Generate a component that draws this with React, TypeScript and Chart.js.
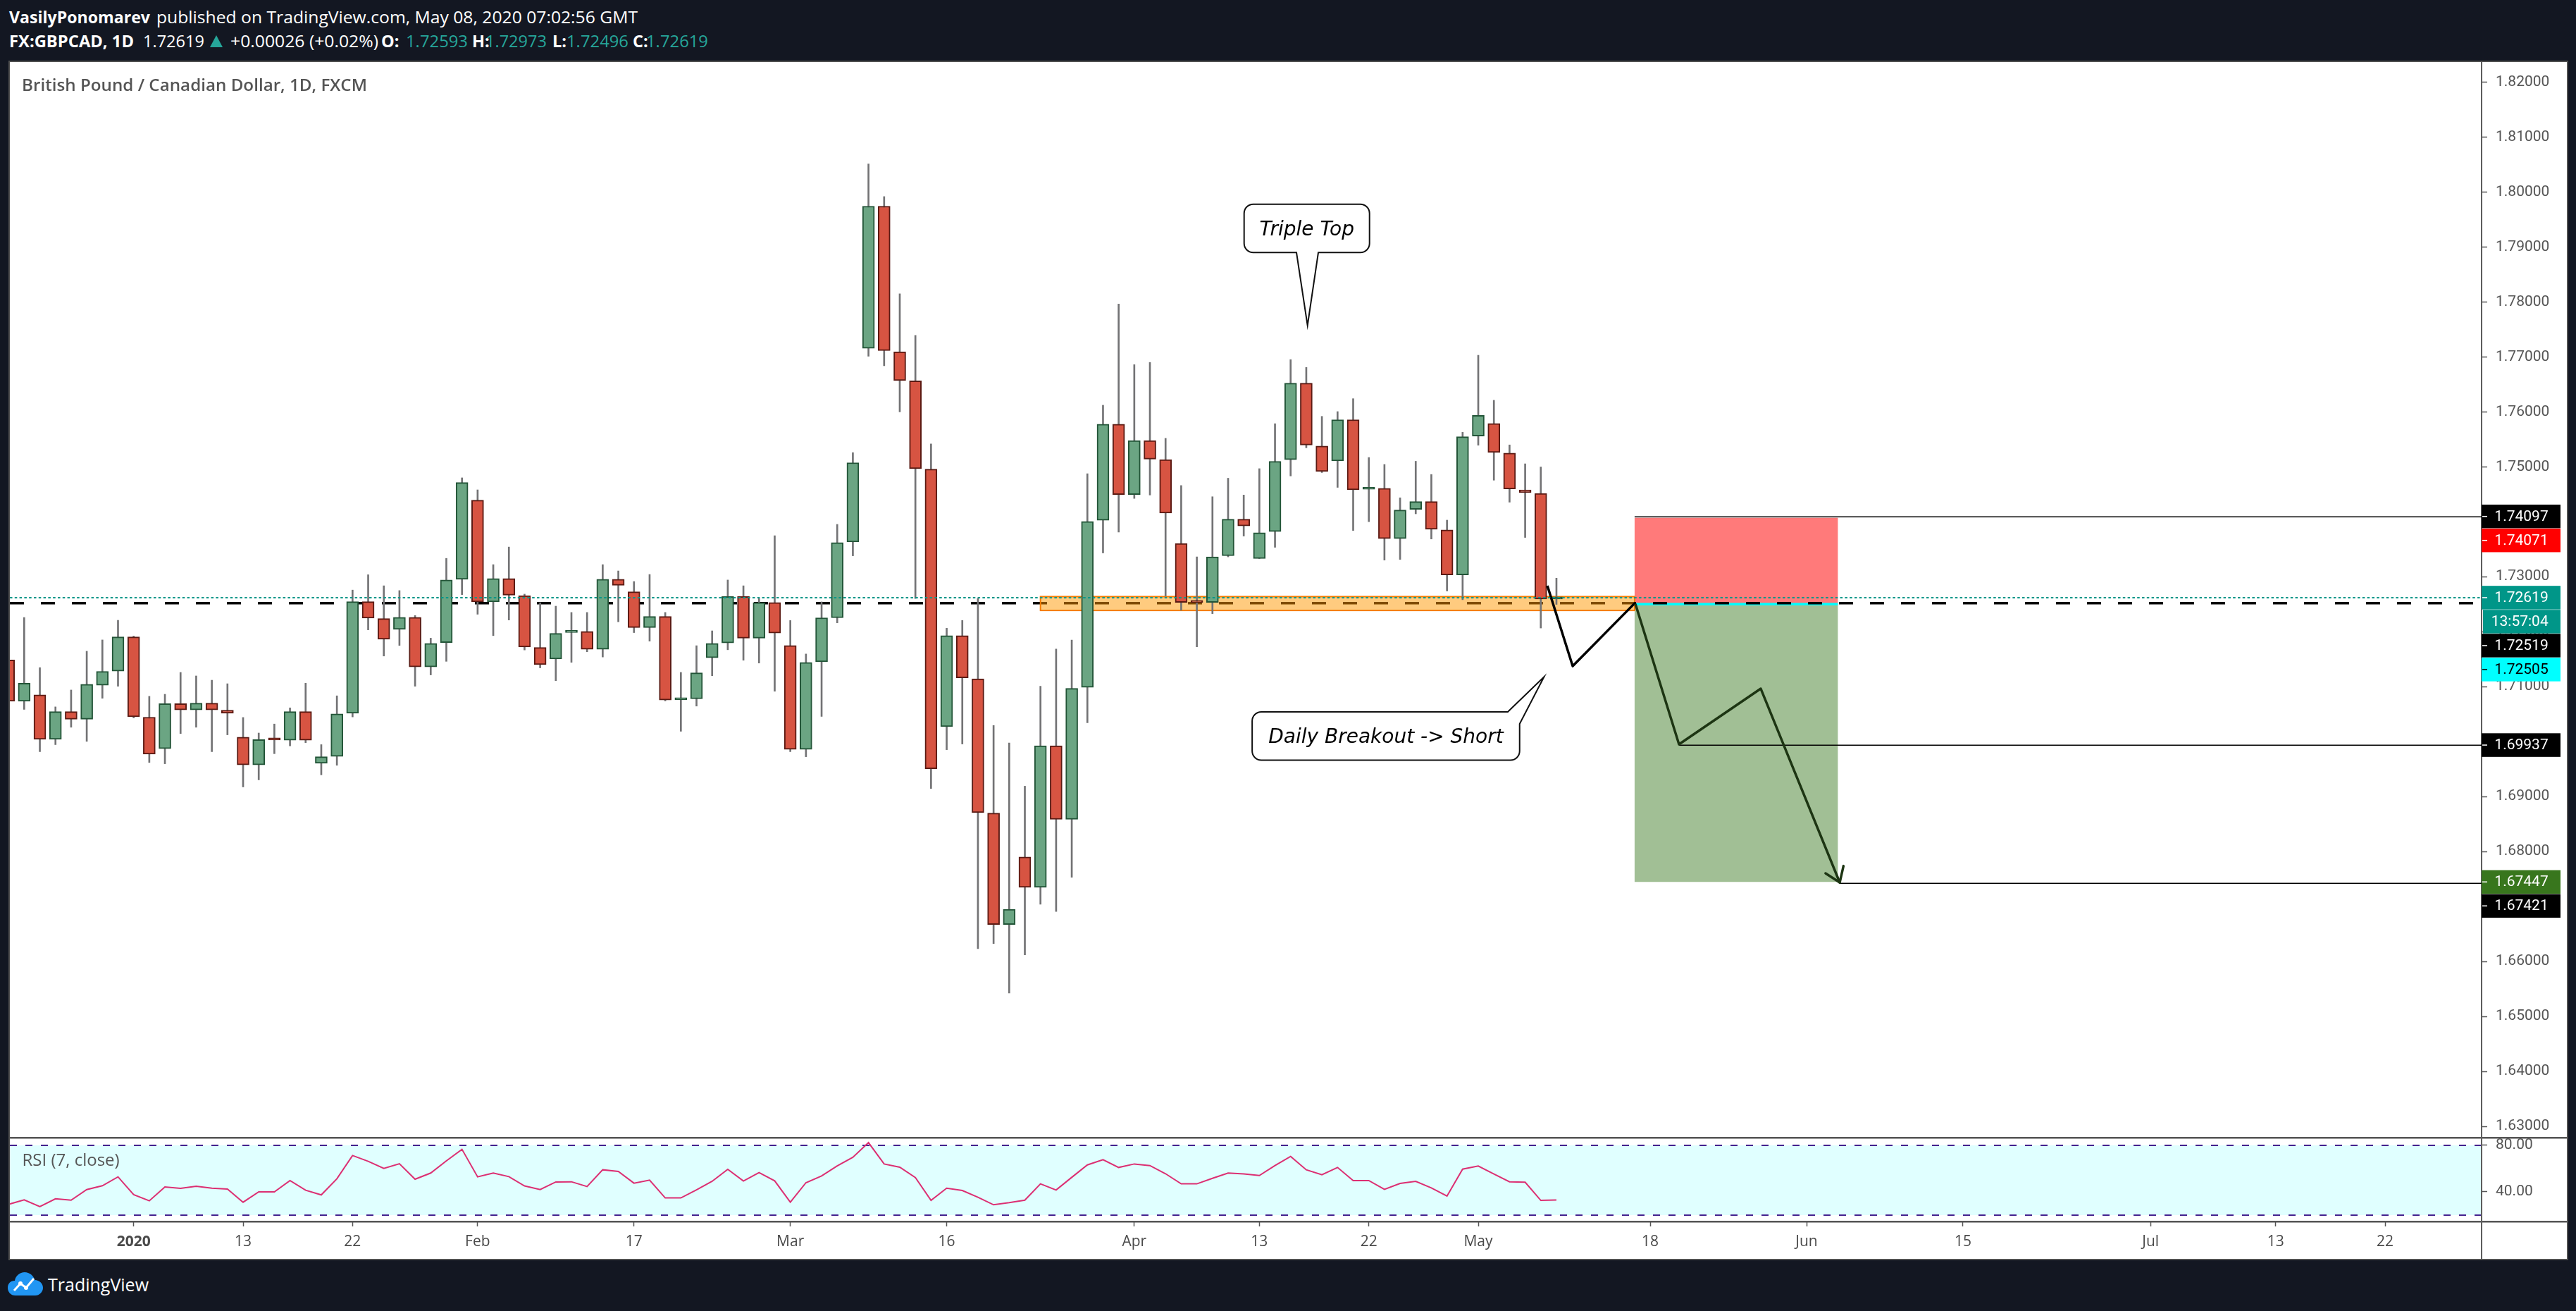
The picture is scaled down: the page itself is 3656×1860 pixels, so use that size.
import React, { useEffect, useRef } from 'react';
import { Chart, registerables } from 'chart.js';

Chart.register(...registerables);

// ---------- DATA ----------
// Bar index 0 = Jan 13, 2020 (daily, weekdays only). First visible bar is index -15 (Dec 19, 2019).
const FIRST_BAR_INDEX = -15;

const OPEN = [
  1.71484, 1.70733, 1.70852, 1.70041, 1.70545, 1.70407, 1.71026, 1.71282, 1.71905, 1.70444,
  1.69872, 1.70691, 1.70577, 1.707, 1.70572, 1.70082, 1.69578, 1.70036, 1.70027, 1.70545,
  1.69606, 1.69729, 1.70517, 1.72546, 1.72239, 1.72042, 1.72262, 1.7136, 1.718, 1.72954,
  1.74392, 1.72542, 1.72968, 1.72656, 1.71713, 1.71502, 1.71985, 1.72006, 1.7168, 1.72954,
  1.72725, 1.72074, 1.72276, 1.7076, 1.70778, 1.71525, 1.71795, 1.72638, 1.71882, 1.72532,
  1.71749, 1.69858, 1.71451, 1.72253, 1.73632, 1.77155, 1.79742, 1.77093, 1.76562, 1.74956,
  1.70272, 1.71929, 1.71142, 1.68698, 1.66673, 1.679, 1.67348, 1.69925, 1.68585, 1.70988,
  1.74025, 1.75774, 1.74496, 1.75478, 1.7513, 1.73606, 1.72545, 1.72532, 1.73381, 1.74046,
  1.7333, 1.73821, 1.7513, 1.76521, 1.75376, 1.75106, 1.75856, 1.7459, 1.74607, 1.73692,
  1.74224, 1.74367, 1.73852, 1.73033, 1.75558, 1.75787, 1.75249, 1.7458, 1.74516, 1.72593,
];
const HIGH = [
  1.7162, 1.72258, 1.71346, 1.70632, 1.70939, 1.71644, 1.7185, 1.72207, 1.7192, 1.70824,
  1.70861, 1.71259, 1.71195, 1.71117, 1.71053, 1.70439, 1.70156, 1.7032, 1.70614, 1.71062,
  1.69945, 1.70833, 1.72757, 1.73036, 1.72835, 1.72748, 1.72294, 1.71882, 1.73334, 1.74799,
  1.7458, 1.7322, 1.7354, 1.72683, 1.72528, 1.72464, 1.7235, 1.7235, 1.7322, 1.73105,
  1.72913, 1.73041, 1.7235, 1.71259, 1.71745, 1.72015, 1.7294, 1.72835, 1.72601, 1.73746,
  1.72203, 1.71594, 1.72542, 1.73952, 1.75258, 1.80509, 1.79916, 1.78147, 1.7739, 1.75416,
  1.72062, 1.72205, 1.72604, 1.70293, 1.69976, 1.69189, 1.71009, 1.71684, 1.71848, 1.74874,
  1.7612, 1.77962, 1.76858, 1.76899, 1.75518, 1.74659, 1.73361, 1.74455, 1.74792, 1.74486,
  1.74966, 1.75784, 1.7695, 1.76807, 1.75917, 1.76004, 1.76239, 1.75169, 1.75043, 1.74436,
  1.751, 1.7486, 1.74029, 1.75627, 1.77029, 1.7621, 1.75398, 1.75054, 1.74997, 1.72973,
];
const LOW = [
  1.706, 1.70586, 1.69817, 1.69945, 1.70261, 1.70004, 1.70788, 1.71007, 1.7043, 1.6962,
  1.69597, 1.70146, 1.70261, 1.69817, 1.70123, 1.69175, 1.69304, 1.6978, 1.69922, 1.69981,
  1.69395, 1.69569, 1.70449, 1.72033, 1.71557, 1.71749, 1.71007, 1.71213, 1.7146, 1.72674,
  1.72317, 1.71928, 1.72212, 1.71667, 1.71342, 1.71108, 1.71442, 1.71635, 1.71539, 1.7218,
  1.71983, 1.71827, 1.7074, 1.70188, 1.70646, 1.71199, 1.71671, 1.7148, 1.71429, 1.70916,
  1.69817, 1.69725, 1.70458, 1.72161, 1.7338, 1.7701, 1.76838, 1.75999, 1.72604, 1.69148,
  1.69853, 1.69956, 1.66233, 1.66325, 1.65425, 1.6612, 1.67041, 1.66908, 1.67532, 1.70344,
  1.73432, 1.73811, 1.74424, 1.74486, 1.72645, 1.72389, 1.71725, 1.72328, 1.73361, 1.73739,
  1.7333, 1.73535, 1.74833, 1.75345, 1.74895, 1.74625, 1.73841, 1.74001, 1.73302, 1.73314,
  1.74144, 1.73686, 1.72741, 1.72581, 1.75392, 1.74756, 1.74356, 1.73714, 1.72066, 1.72496,
];
const CLOSE = [
  1.70733, 1.71062, 1.70041, 1.70545, 1.70407, 1.71044, 1.71278, 1.71905, 1.70453, 1.69771,
  1.70691, 1.70577, 1.707, 1.70577, 1.70517, 1.69578, 1.70036, 1.7003, 1.70545, 1.70027,
  1.69725, 1.70504, 1.72546, 1.72248, 1.71864, 1.72262, 1.7136, 1.71786, 1.7294, 1.74713,
  1.72542, 1.72968, 1.72665, 1.71722, 1.71401, 1.71969, 1.71992, 1.7168, 1.72954, 1.72844,
  1.72074, 1.72276, 1.70755, 1.70769, 1.7125, 1.71786, 1.72638, 1.71882, 1.72532, 1.71974,
  1.69858, 1.71442, 1.72253, 1.73622, 1.75074, 1.79742, 1.77114, 1.7657, 1.74966, 1.69506,
  1.71929, 1.71162, 1.68708, 1.66673, 1.66949, 1.67348, 1.69925, 1.68585, 1.70968, 1.74005,
  1.75774, 1.74496, 1.75478, 1.7514, 1.74159, 1.72532, 1.72532, 1.73361, 1.74046, 1.73923,
  1.73801, 1.751, 1.76521, 1.75396, 1.74915, 1.75856, 1.7458, 1.74596, 1.73692, 1.74213,
  1.74367, 1.73863, 1.73033, 1.75546, 1.75936, 1.7526, 1.74596, 1.74533, 1.72593, 1.72619,
];
const RSI = [
  29.3, 33.1, 27.3, 34.1, 32.9, 42.0, 45.3, 52.9, 37.6, 32.3,
  44.2, 43.0, 44.9, 43.2, 42.4, 31.1, 40.0, 40.0, 49.7, 41.4,
  37.4, 51.3, 71.3, 66.3, 60.2, 64.2, 50.9, 56.2, 66.7, 76.6,
  52.9, 56.2, 53.1, 45.1, 42.0, 48.5, 48.7, 44.6, 59.0, 57.6,
  47.5, 50.1, 34.8, 34.8, 41.8, 49.1, 59.4, 49.3, 56.6, 49.5,
  31.1, 47.9, 53.7, 62.4, 69.7, 82.4, 64.0, 61.2, 52.3, 32.7,
  43.2, 41.2, 35.4, 28.9, 30.7, 32.9, 46.9, 41.6, 52.5, 63.2,
  67.7, 61.0, 64.0, 62.6, 55.6, 46.9, 46.9, 51.7, 56.2, 55.4,
  54.1, 62.6, 70.5, 59.0, 54.7, 61.0, 49.7, 49.7, 42.2, 47.3,
  49.1, 43.4, 36.4, 59.6, 62.2, 55.4, 48.7, 48.3, 32.7, 33.1,
];

const X_TICK_POS = [-7, 0, 7, 15, 25, 35, 45, 57, 65, 72, 79, 90, 100, 110, 122, 130, 137];
const X_TICK_LABELS = ['2020', '13', '22', 'Feb', '17', 'Mar', '16', 'Apr', '13', '22', 'May', '18', 'Jun', '15', 'Jul', '13', '22'];
const PRICE_TICKS = [1.63, 1.64, 1.65, 1.66, 1.67, 1.68, 1.69, 1.7, 1.71, 1.72, 1.73, 1.74, 1.75, 1.76, 1.77, 1.78, 1.79, 1.8, 1.81, 1.82];
const RSI_TICKS = [40, 80];
const RSI_BANDS = [80, 20];

// visible ranges
const X_MIN = -14.917;
const X_MAX = 143.172;
const Y_MIN = 1.62808;
const Y_MAX = 1.82364;
const RSI_MIN = 14.545;
const RSI_MAX = 87.27;

// drawings (in bar-index / price units)
const LAST_PRICE = 1.72619;
const HLINE_PRICE = 1.72519;
const ZONE_X = [51, 89];
const ZONE_PRICE = [1.72638, 1.72386];
const POSITION_X = [89, 102];
const STOP_PRICE = 1.74071;
const ENTRY_PRICE = 1.72505;
const TARGET_PRICE = 1.67447;
const RAY_X = [89, 91.84, 102.1];
const RAY_PRICE = [1.74097, 1.69937, 1.67421];
const PATH1_X = [83.42, 85.04, 89.05];
const PATH1_Y = [1.72836, 1.71373, 1.7253];
const PATH2_X = [89.05, 91.84, 97.07, 102.12];
const PATH2_Y = [1.72505, 1.6995, 1.70963, 1.67437];
const CALLOUT_TEXT = ['Triple Top', 'Daily Breakout -> Short'];
const CALLOUT_X = [68.08, 83.21];
const CALLOUT_Y = [1.77572, 1.71178];

// price-axis labels
const AXIS_LABEL_TEXT = ['1.74097', '1.74071', '1.72619', '13:57:04', '1.72519', '1.72505', '1.69937', '1.67447', '1.67421'];
const AXIS_LABEL_PRICE = [1.74097, 1.74071, 1.72619, 1.72619, 1.72519, 1.72505, 1.69937, 1.67447, 1.67421];
const AXIS_LABEL_BG = ['#000000', '#FF0000', '#009688', '#009688', '#000000', '#00FFFF', '#000000', '#38761D', '#000000'];
const AXIS_LABEL_FG = ['#FFFFFF', '#FFFFFF', '#FFFFFF', '#FFFFFF', '#FFFFFF', '#000000', '#FFFFFF', '#FFFFFF', '#FFFFFF'];

// ---------- STYLE ----------
const UP_FILL = '#6BA583';
const UP_BORDER = '#225437';
const DOWN_FILL = '#D75442';
const DOWN_BORDER = '#5B1A13';
const WICK = '#737375';
const AXIS_W = 121;
const TEXT_GRAY = '#555555';
const RSI_COLOR = '#DC2F72';
const BAND_COLOR = '#44228F';
const TEAL = '#26A69A';

const barIdx = OPEN.map((_, i) => FIRST_BAR_INDEX + i);
const isUp = OPEN.map((o, i) => CLOSE[i] >= o);

function calloutPath(ctx: CanvasRenderingContext2D, kind: number, tx: number, ty: number) {
  const r = 13;
  ctx.beginPath();
  if (kind === 0) {
    const L = tx - 90, R = tx + 88, T = ty - 172, B = ty - 103.4;
    ctx.moveTo(tx + 15.3, B);
    ctx.lineTo(R - r, B);
    ctx.arcTo(R, B, R, B - r, r);
    ctx.lineTo(R, T + r);
    ctx.arcTo(R, T, R - r, T, r);
    ctx.lineTo(L + r, T);
    ctx.arcTo(L, T, L, T + r, r);
    ctx.lineTo(L, B - r);
    ctx.arcTo(L, B, L + r, B, r);
    ctx.lineTo(tx - 15.7, B);
    ctx.lineTo(tx, ty);
    ctx.closePath();
    return { cx: (L + R) / 2, cy: (T + B) / 2 };
  }
  const L = tx - 414.3, R = tx - 34.7, T = ty + 49.7, B = ty + 118.3;
  ctx.moveTo(tx - 51.5, T);
  ctx.lineTo(tx, ty);
  ctx.lineTo(R, ty + 66.7);
  ctx.lineTo(R, B - r);
  ctx.arcTo(R, B, R - r, B, r);
  ctx.lineTo(L + r, B);
  ctx.arcTo(L, B, L, B - r, r);
  ctx.lineTo(L, T + r);
  ctx.arcTo(L, T, L + r, T, r);
  ctx.closePath();
  return { cx: (L + R) / 2, cy: (T + B) / 2 };
}

const mainPlugin = {
  id: 'mainDeco',
  beforeDraw(chart: any) {
    const { ctx, width, height } = chart;
    ctx.save();
    ctx.fillStyle = '#FFFFFF';
    ctx.fillRect(0, 0, width, height);
    ctx.restore();
  },
  beforeDatasetsDraw(chart: any) {
    const { ctx, chartArea: a, scales } = chart;
    const x = scales.x, y = scales.y;
    ctx.save();
    ctx.beginPath();
    ctx.rect(a.left, a.top, a.right - a.left, a.bottom - a.top);
    ctx.clip();
    // position box
    const bx0 = x.getPixelForValue(POSITION_X[0]);
    const bx1 = x.getPixelForValue(POSITION_X[1]);
    const yS = y.getPixelForValue(STOP_PRICE);
    const yE = y.getPixelForValue(ENTRY_PRICE);
    const yT = y.getPixelForValue(TARGET_PRICE);
    ctx.fillStyle = 'rgba(255,0,0,0.52)';
    ctx.fillRect(bx0, yS, bx1 - bx0, yE - yS);
    ctx.fillStyle = 'rgba(56,118,29,0.47)';
    ctx.fillRect(bx0, yE, bx1 - bx0, yT - yE);
    ctx.fillStyle = '#00FFFF';
    ctx.fillRect(bx0, yE - 1.5, bx1 - bx0, 3.5);
    // rays
    ctx.strokeStyle = '#000';
    ctx.lineWidth = 1.6;
    RAY_X.forEach((rx, i) => {
      const py = Math.round(y.getPixelForValue(RAY_PRICE[i])) + 0.2;
      ctx.beginPath();
      ctx.moveTo(x.getPixelForValue(rx), py);
      ctx.lineTo(a.right, py);
      ctx.stroke();
    });
    // dashed horizontal line
    const hy = y.getPixelForValue(HLINE_PRICE);
    ctx.setLineDash([20, 24]);
    ctx.lineWidth = 3.5;
    ctx.strokeStyle = '#000';
    ctx.beginPath();
    ctx.moveTo(a.left, hy);
    ctx.lineTo(a.right, hy);
    ctx.stroke();
    ctx.setLineDash([]);
    // support zone
    const zx0 = x.getPixelForValue(ZONE_X[0]);
    const zx1 = x.getPixelForValue(ZONE_X[1]);
    const zy0 = y.getPixelForValue(ZONE_PRICE[0]);
    const zy1 = y.getPixelForValue(ZONE_PRICE[1]);
    ctx.fillStyle = 'rgba(255,152,0,0.5)';
    ctx.fillRect(zx0, zy0, zx1 - zx0, zy1 - zy0);
    ctx.strokeStyle = '#F57C00';
    ctx.lineWidth = 2;
    ctx.strokeRect(zx0, zy0, zx1 - zx0, zy1 - zy0);
    ctx.restore();
  },
  afterDatasetsDraw(chart: any) {
    const { ctx, chartArea: a, scales } = chart;
    const x = scales.x, y = scales.y;
    ctx.save();
    // last price dotted line
    const ly = y.getPixelForValue(LAST_PRICE);
    ctx.setLineDash([3.5, 3.3]);
    ctx.strokeStyle = '#009688';
    ctx.lineWidth = 2;
    ctx.beginPath();
    ctx.moveTo(a.left, ly);
    ctx.lineTo(a.right, ly);
    ctx.stroke();
    ctx.setLineDash([]);
    // arrow head at the end of path 2
    const n = PATH2_X.length;
    const ex = x.getPixelForValue(PATH2_X[n - 1]);
    const ey = y.getPixelForValue(PATH2_Y[n - 1]);
    const px = x.getPixelForValue(PATH2_X[n - 2]);
    const py = y.getPixelForValue(PATH2_Y[n - 2]);
    const ang = Math.atan2(py - ey, px - ex);
    ctx.strokeStyle = '#1D3513';
    ctx.lineWidth = 3.5;
    ctx.lineCap = 'round';
    [-0.61, 0.61].forEach((d) => {
      ctx.beginPath();
      ctx.moveTo(ex, ey);
      ctx.lineTo(ex + 24 * Math.cos(ang + d), ey + 24 * Math.sin(ang + d));
      ctx.stroke();
    });
    // callouts
    CALLOUT_TEXT.forEach((t, i) => {
      const tx = x.getPixelForValue(CALLOUT_X[i]);
      const ty = y.getPixelForValue(CALLOUT_Y[i]);
      const c = calloutPath(ctx, i, tx, ty);
      ctx.fillStyle = '#FFFFFF';
      ctx.fill();
      ctx.strokeStyle = '#111';
      ctx.lineWidth = 2;
      ctx.lineJoin = 'miter';
      ctx.stroke();
      ctx.fillStyle = '#000';
      ctx.font = 'italic 28px "DejaVu Sans"';
      ctx.textAlign = 'center';
      ctx.textBaseline = 'alphabetic';
      ctx.fillText(t, c.cx, c.cy + 10);
    });
    ctx.restore();
  },
  afterDraw(chart: any) {
    const { ctx, chartArea: a, scales } = chart;
    const y = scales.y;
    ctx.save();
    let prevBottom = -1e9;
    AXIS_LABEL_TEXT.forEach((t, i) => {
      let cy = y.getPixelForValue(AXIS_LABEL_PRICE[i]);
      const h = 33.5;
      if (cy - h / 2 < prevBottom + 0.5) cy = prevBottom + 0.5 + h / 2;
      prevBottom = cy + h / 2;
      const isTimer = t.indexOf(':') >= 0;
      const left = a.right + (isTimer ? 2 : 0);
      ctx.fillStyle = AXIS_LABEL_BG[i];
      ctx.fillRect(left, cy - h / 2, a.right + 112 - left, h);
      ctx.fillStyle = AXIS_LABEL_FG[i];
      if (!isTimer) ctx.fillRect(a.right + 1, cy - 0.75, 7, 1.5);
      ctx.font = '21px Roboto';
      ctx.textAlign = 'right';
      ctx.textBaseline = 'middle';
      ctx.fillText(t, a.right + 94.7, cy + 1);
    });
    ctx.restore();
  },
};

const rsiPlugin = {
  id: 'rsiDeco',
  beforeDraw(chart: any) {
    const { ctx, width, height } = chart;
    ctx.save();
    ctx.fillStyle = '#FFFFFF';
    ctx.fillRect(0, 0, width, height);
    ctx.restore();
  },
  beforeDatasetsDraw(chart: any) {
    const { ctx, chartArea: a, scales } = chart;
    const y = scales.y;
    const yTop = y.getPixelForValue(RSI_BANDS[0]);
    const yBot = y.getPixelForValue(RSI_BANDS[1]);
    ctx.save();
    ctx.fillStyle = '#E0FFFF';
    ctx.fillRect(a.left, yTop, a.right - a.left, yBot - yTop);
    ctx.setLineDash([10, 12]);
    ctx.strokeStyle = BAND_COLOR;
    ctx.lineWidth = 2;
    [yTop, yBot].forEach((yy) => {
      ctx.beginPath();
      ctx.moveTo(a.left, yy);
      ctx.lineTo(a.right, yy);
      ctx.stroke();
    });
    ctx.restore();
  },
  afterDraw(chart: any) {
    const { ctx, chartArea: a, width, height } = chart;
    ctx.save();
    ctx.fillStyle = '#555555';
    ctx.fillRect(0, 0, width, 2.5);
    ctx.fillRect(0, a.bottom - 1, width, 2.5);
    ctx.fillStyle = '#5d5d5d';
    ctx.fillRect(a.right - 1, 0, 2, height);
    ctx.restore();
  },
};

function mainConfig(): any {
  return {
    type: 'bar',
    data: {
      datasets: [
        {
          type: 'bar',
          label: 'wicks',
          data: barIdx.map((xv, i) => ({ x: xv, y: [LOW[i], HIGH[i]] })),
          backgroundColor: WICK,
          borderWidth: 0,
          barThickness: 2,
          grouped: false,
          order: 3,
        },
        {
          type: 'bar',
          label: 'bodies',
          data: barIdx.map((xv, i) => ({ x: xv, y: [OPEN[i], CLOSE[i]] })),
          backgroundColor: isUp.map((u) => (u ? UP_FILL : DOWN_FILL)),
          borderColor: isUp.map((u) => (u ? UP_BORDER : DOWN_BORDER)),
          borderWidth: 2,
          borderSkipped: false,
          barThickness: 17,
          minBarLength: 3,
          grouped: false,
          order: 2,
        },
        {
          type: 'line',
          label: 'path1',
          data: PATH1_X.map((xv, i) => ({ x: xv, y: PATH1_Y[i] })),
          borderColor: '#000000',
          borderWidth: 3.5,
          pointRadius: 0,
          tension: 0,
          borderJoinStyle: 'round',
          order: 1,
        },
        {
          type: 'line',
          label: 'path2',
          data: PATH2_X.map((xv, i) => ({ x: xv, y: PATH2_Y[i] })),
          borderColor: '#1D3513',
          borderWidth: 3.5,
          pointRadius: 0,
          tension: 0,
          borderJoinStyle: 'round',
          order: 0,
        },
      ],
    },
    options: {
      responsive: false,
      maintainAspectRatio: false,
      animation: false,
      events: [],
      layout: { padding: 0 },
      plugins: { legend: { display: false }, tooltip: { enabled: false } },
      scales: {
        x: { type: 'linear', min: X_MIN, max: X_MAX, offset: false, display: false },
        y: {
          type: 'linear',
          position: 'right',
          min: Y_MIN,
          max: Y_MAX,
          afterBuildTicks: (s: any) => {
            s.ticks = PRICE_TICKS.map((v) => ({ value: v }));
          },
          afterFit: (s: any) => {
            s.width = AXIS_W;
            s.paddingTop = 0;
            s.paddingBottom = 0;
          },
          ticks: {
            callback: (v: any) => Number(v).toFixed(5),
            color: TEXT_GRAY,
            font: { family: 'Roboto', size: 21 },
            padding: 12,
            autoSkip: false,
          },
          grid: { drawOnChartArea: false, drawTicks: true, tickLength: 8, tickWidth: 1.5, color: '#555' },
          border: { display: true, color: '#5d5d5d', width: 2 },
        },
      },
    },
    plugins: [mainPlugin],
  };
}

function rsiConfig(): any {
  return {
    type: 'line',
    data: {
      datasets: [
        {
          label: 'RSI',
          data: barIdx.map((xv, i) => ({ x: xv, y: RSI[i] })),
          borderColor: RSI_COLOR,
          borderWidth: 2,
          pointRadius: 0,
          tension: 0,
        },
      ],
    },
    options: {
      responsive: false,
      maintainAspectRatio: false,
      animation: false,
      events: [],
      layout: { padding: 0 },
      plugins: { legend: { display: false }, tooltip: { enabled: false } },
      scales: {
        x: {
          type: 'linear',
          min: X_MIN,
          max: X_MAX,
          offset: false,
          afterBuildTicks: (s: any) => {
            s.ticks = X_TICK_POS.map((v) => ({ value: v }));
          },
          afterFit: (s: any) => {
            s.height = 53;
            s.paddingLeft = 0;
            s.paddingRight = 0;
          },
          ticks: {
            autoSkip: false,
            maxRotation: 0,
            minRotation: 0,
            padding: 9,
            color: '#4a4a4a',
            font: (c: any) => ({ family: 'Open Sans', size: 21, weight: X_TICK_LABELS[c.index] === '2020' ? 'bold' : 'normal' }),
            callback: (_v: any, i: number) => X_TICK_LABELS[i],
          },
          grid: { drawOnChartArea: false, drawTicks: true, tickLength: 7, tickWidth: 1.5, color: '#555' },
          border: { display: false },
        },
        y: {
          type: 'linear',
          position: 'right',
          min: RSI_MIN,
          max: RSI_MAX,
          afterBuildTicks: (s: any) => {
            s.ticks = RSI_TICKS.map((v) => ({ value: v }));
          },
          afterFit: (s: any) => {
            s.width = AXIS_W;
            s.paddingTop = 0;
            s.paddingBottom = 0;
          },
          ticks: {
            callback: (v: any) => Number(v).toFixed(2),
            color: TEXT_GRAY,
            font: { family: 'Roboto', size: 21 },
            padding: 12,
            autoSkip: false,
          },
          grid: { drawOnChartArea: false, drawTicks: true, tickLength: 8, tickWidth: 1.5, color: '#555' },
          border: { display: true, color: '#5d5d5d', width: 2 },
        },
      },
    },
    plugins: [rsiPlugin],
  };
}

export default function App() {
  const mainRef = useRef<HTMLCanvasElement>(null);
  const rsiRef = useRef<HTMLCanvasElement>(null);

  useEffect(() => {
    const c1 = new Chart(mainRef.current as HTMLCanvasElement, mainConfig());
    const c2 = new Chart(rsiRef.current as HTMLCanvasElement, rsiConfig());
    return () => {
      c1.destroy();
      c2.destroy();
    };
  }, []);

  const font = '"Open Sans", sans-serif';
  const fit: any = { lengthAdjust: 'spacingAndGlyphs' };
  return (
    <div style={{ position: 'fixed', left: 0, top: 0, width: 3656, height: 1860, background: '#131722', overflow: 'hidden', fontFamily: font }}>
      <svg width={1100} height={84} style={{ position: 'absolute', left: 0, top: 0 }} fontFamily={font} fontSize={23.5}>
        <text x={13} y={33} fontWeight={700} fill="#FFFFFF" textLength={200} {...fit}>VasilyPonomarev</text>
        <text x={222} y={33} fill="#FFFFFF" textLength={683} {...fit}>published on TradingView.com, May 08, 2020 07:02:56 GMT</text>
        <text x={13} y={67} fontWeight={700} fill="#FFFFFF" textLength={177} {...fit}>FX:GBPCAD, 1D</text>
        <text x={203} y={67} fill="#FFFFFF" textLength={87} {...fit}>1.72619</text>
        <polygon points="307,50 316,67 298,67" fill={TEAL} />
        <text x={327} y={67} fill="#FFFFFF" textLength={210} {...fit}>+0.00026 (+0.02%)</text>
        <text x={541} y={67} fontWeight={700} fill="#FFFFFF">O:</text>
        <text x={576} y={67} fill={TEAL} textLength={88} {...fit}>1.72593</text>
        <text x={670} y={67} fontWeight={700} fill="#FFFFFF">H:</text>
        <text x={689} y={67} fill={TEAL} textLength={87} {...fit}>1.72973</text>
        <text x={784} y={67} fontWeight={700} fill="#FFFFFF">L:</text>
        <text x={804} y={67} fill={TEAL} textLength={88} {...fit}>1.72496</text>
        <text x={898} y={67} fontWeight={700} fill="#FFFFFF">C:</text>
        <text x={917} y={67} fill={TEAL} textLength={88} {...fit}>1.72619</text>
      </svg>
      <div style={{ position: 'absolute', left: 12, top: 86, width: 3633, height: 1702, boxSizing: 'border-box', border: '2px solid #4f4f4f', background: '#FFFFFF' }} />
      <canvas ref={mainRef} width={3629} height={1525} style={{ position: 'absolute', left: 14, top: 88, width: 3629, height: 1525 }} />
      <canvas ref={rsiRef} width={3629} height={173} style={{ position: 'absolute', left: 14, top: 1613, width: 3629, height: 173 }} />
      <svg width={600} height={40} style={{ position: 'absolute', left: 0, top: 100 }} fontFamily={font}>
        <text x={31} y={29} fontSize={24} fontWeight={600} fill="#555555" textLength={490} {...fit}>British Pound / Canadian Dollar, 1D, FXCM</text>
      </svg>
      <div style={{ position: 'absolute', left: 31.5, top: 1632.7, fontSize: 24, lineHeight: '24px', color: '#555555', whiteSpace: 'pre' }}>
        RSI (7, close)
      </div>
      <svg width={52} height={40} viewBox="0 0 52 40" style={{ position: 'absolute', left: 10, top: 1802 }}>
        <path d="M12 36 C5 36 1 31 1 25 C1 19 5 15 11 15 C12 8 18 3 25 3 C32 3 38 8 39 14 C46 14 51 19 51 25 C51 31 46 36 40 36 Z" fill="#2196F3" />
        <polyline points="10,29 19,19 27,25 38,12" stroke="#FFFFFF" strokeWidth={3} fill="none" />
        <circle cx={19} cy={19} r={3} fill="#FFFFFF" />
        <circle cx={27} cy={25} r={3} fill="#FFFFFF" />
      </svg>
      <div style={{ position: 'absolute', left: 68, top: 1809.8, fontSize: 25, lineHeight: '25px', color: '#FFFFFF', whiteSpace: 'pre' }}>
        TradingView
      </div>
    </div>
  );
}
